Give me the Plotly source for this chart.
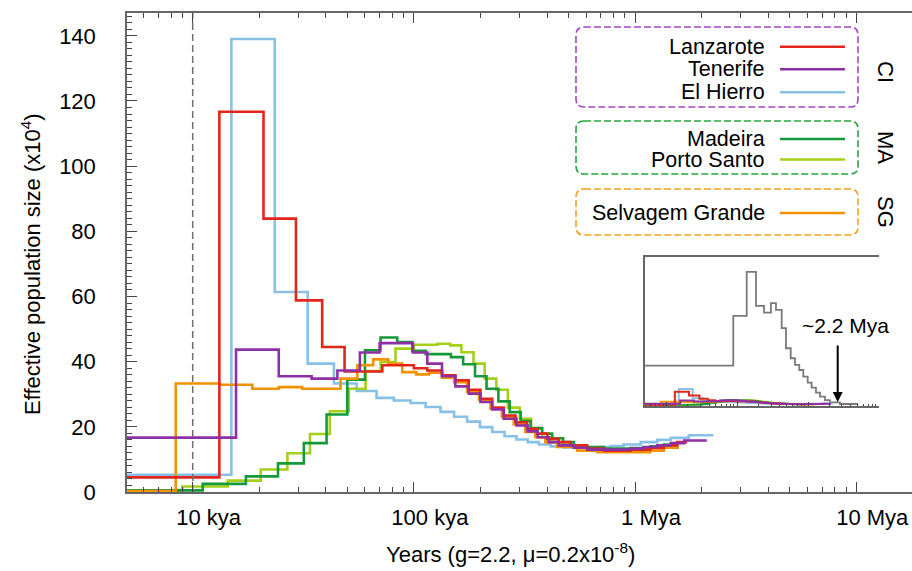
import plotly.graph_objects as go

# ---------------- data (years, Ne x10^4) ----------------
lanz_t = [5000, 13200, 20900, 29300, 38500, 48600, 72000, 100000, 115000, 134000, 154000, 177000, 200000,
          226000, 255000, 288000, 325000, 361000, 401000, 452000, 511000, 608000, 723000, 953000, 1170000,
          1350000, 1550000, 1720000]
lanz_v = [4.5, 116.7, 83.9, 58.8, 44.5, 37.0, 38.9, 38.0, 37.3, 35.8, 34.3, 31.4, 28.6, 25.9, 23.5, 21.4,
          19.4, 17.9, 16.3, 15.3, 14.3, 13.3, 12.7, 13.0, 13.5, 14.3, 15.3]

tene_t = [5000, 15700, 24500, 34500, 45100, 57000, 70000, 99000, 115000, 134000, 154000, 177000, 200000,
          226000, 255000, 291000, 327000, 363000, 407000, 452000, 529000, 608000, 953000, 1090000, 1260000,
          1450000, 1670000, 2110000]
tene_v = [16.7, 43.7, 35.5, 34.8, 37.3, 42.8, 45.7, 42.8, 39.4, 35.5, 32.4, 30.2, 27.6, 25.3, 22.5, 20.4,
          18.6, 16.8, 15.3, 14.3, 13.6, 13.0, 13.3, 13.8, 14.3, 15.0, 15.8]

hier_t = [5000, 14960, 23500, 33100, 43500, 55100, 67800, 81200, 96700, 113000, 132000, 152000, 174000,
          199000, 226000, 257000, 291000, 327000, 367000, 415000, 475000, 674000, 774000, 887000, 1060000,
          1260000, 1450000, 1750000, 2260000]
hier_v = [5.3, 139.0, 61.4, 39.4, 33.3, 31.0, 28.9, 28.1, 27.3, 26.1, 24.6, 23.1, 21.6, 19.9, 18.4, 17.1,
          16.1, 15.3, 14.6, 14.0, 13.7, 13.8, 14.1, 14.6, 15.3, 16.0, 16.6, 17.4]

made_t = [5000, 11100, 17400, 24300, 31800, 40300, 50000, 60100, 70700, 84100, 98400, 113000, 147000,
          167000, 189000, 213000, 241000, 271000, 304000, 337000, 380000, 422000, 473000, 529000, 586000,
          723000, 953000, 1170000, 1350000, 1580000]
made_v = [0.5, 2.5, 4.8, 8.8, 15.0, 23.8, 34.5, 43.5, 47.4, 46.0, 43.3, 42.3, 41.4, 39.2, 35.5, 31.7, 27.8,
          24.5, 21.8, 19.6, 17.9, 16.5, 15.3, 14.3, 13.8, 13.3, 13.5, 14.0, 14.6]

port_t = [5000, 8980, 14400, 20300, 26800, 33900, 41700, 50800, 60500, 70700, 82600, 100000, 128000,
          146000, 164000, 186000, 209000, 236000, 266000, 301000, 339000, 380000, 422000, 469000, 529000,
          608000, 830000, 1190000, 1550000]
port_v = [0.3, 1.7, 3.5, 6.9, 11.9, 17.8, 24.8, 31.7, 37.1, 39.9, 44.0, 45.2, 45.5, 45.0, 42.9, 39.4, 34.8,
          31.4, 25.9, 22.5, 19.4, 16.8, 15.3, 14.3, 13.5, 12.7, 13.0, 13.8]

selv_t = [5000, 8380, 13200, 18600, 24500, 31300, 46600, 55500, 65500, 76600, 88600, 102500, 117000,
          134000, 152000, 174000, 197000, 222000, 250000, 283000, 319000, 354000, 393000, 445000, 548000,
          674000, 1170000, 1350000, 1580000]
selv_v = [0.3, 33.3, 32.9, 31.7, 32.2, 31.7, 34.8, 38.9, 40.7, 39.4, 36.8, 36.1, 36.6, 35.1, 33.7, 30.7,
          28.3, 25.6, 23.0, 20.7, 18.4, 16.8, 15.3, 13.8, 12.7, 12.2, 12.7, 13.6]

# inset grey curve
gray_t = [5000, 88000, 136000, 184000, 239000, 299000, 352000, 424000, 487000, 568000, 653000, 750000,
          855000, 986000, 1120000, 1290000, 1470000, 1730000, 2030000, 2810000, 5100000]
gray_v = [333, 747, 1114, 831, 775, 853, 797, 645, 478, 395, 339, 297, 242, 192, 150, 108, 75, 47, 28, 14]

names = ["Lanzarote", "Tenerife", "El Hierro", "Madeira", "Porto Santo", "Selvagem Grande"]
colors = ["#e3261c", "#8e2fa6", "#88c0e8", "#16993a", "#a4cf1a", "#f39200"]
series = [(lanz_t, lanz_v), (tene_t, tene_v), (hier_t, hier_v), (made_t, made_v), (port_t, port_v),
          (selv_t, selv_v)]

xtick_vals = [1e4, 1e5, 1e6, 1e7]
xtick_text = ["10 kya", "100 kya", "1 Mya", "10 Mya"]
marker_year = 1e4

FONT = "Liberation Sans, Arial, Helvetica, sans-serif"
W, H = 912, 571
ML, MR, MT, MB = 127, 0, 13, 79
PW, PH = W - ML - MR, H - MT - MB


def X(px):
    return (px - ML) / PW


def Y(py):
    return (H - MB - py) / PH


fig = go.Figure()

draw_order = [2, 4, 3, 5, 0, 1]
for i in draw_order:
    t, v = series[i]
    fig.add_trace(go.Scatter(x=t, y=v + [v[-1]], mode="lines", line=dict(color=colors[i], width=2.6, shape="hv"),
                             showlegend=False, hoverinfo="skip"))

fig.add_trace(go.Scatter(x=[marker_year, marker_year], y=[0, 147], mode="lines",
                         line=dict(color="#6e6e6e", width=1.5, dash="7px,4px"), showlegend=False))

# inset
fig.add_trace(go.Scatter(x=gray_t, y=gray_v + [gray_v[-1]], mode="lines", xaxis="x2", yaxis="y2",
                         line=dict(color="#7a7a7a", width=1.8, shape="hv"), showlegend=False))
for i in draw_order:
    t, v = series[i]
    fig.add_trace(go.Scatter(x=t, y=v + [v[-1]], mode="lines", xaxis="x2", yaxis="y2",
                             line=dict(color=colors[i], width=2, shape="hv"), showlegend=False))

axcol = "#666666"
tkcol = "#444444"
fig.update_layout(
    width=W, height=H, margin=dict(l=ML, r=MR, t=MT, b=MB),
    paper_bgcolor="white", plot_bgcolor="white",
    font=dict(family=FONT, size=22, color="black"),
    xaxis=dict(type="log", range=[3.703, 7.252], domain=[0, 1], showline=True, linecolor=axcol, linewidth=1.5,
               mirror="ticks", ticks="inside", ticklen=10, tickwidth=1.2, tickcolor=tkcol,
               tickvals=xtick_vals, ticktext=xtick_text, showgrid=False, zeroline=False,
               tickfont=dict(size=22), ticklabelshift=16, ticklabelstandoff=5,
               minor=dict(ticks="inside", ticklen=5, tickwidth=1, tickcolor=tkcol, dtick="D1", showgrid=False)),
    yaxis=dict(range=[0, 147], domain=[0, 1], showline=True, linecolor=axcol, linewidth=1.5, mirror=False,
               ticks="inside", ticklen=10, tickwidth=1.2, tickcolor=tkcol, tick0=0, dtick=20,
               showgrid=False, zeroline=False, tickfont=dict(size=22), ticklabelstandoff=25,
               minor=dict(ticks="inside", ticklen=5, tickwidth=1, tickcolor=tkcol, dtick=2, showgrid=False)),
    xaxis2=dict(type="log", range=[3.699, 7.0], domain=[X(645), X(879)], anchor="y2", showline=True,
                linecolor=axcol, linewidth=1.5, mirror=True, ticks="inside", ticklen=4, tickcolor=tkcol,
                dtick=1, showticklabels=False, showgrid=False, zeroline=False,
                minor=dict(ticks="inside", ticklen=2, tickcolor=tkcol, dtick="D1", showgrid=False)),
    yaxis2=dict(range=[0, 1240], domain=[Y(405.7), Y(256.7)], anchor="x2", showline=True, linecolor=axcol,
                linewidth=1.5, ticks="", showticklabels=False, showgrid=False, zeroline=False),
)

shapes = []
annotations = []


def rrect(x0, y0, x1, y1, r):
    pts = []
    pts.append(f"M {X(x0 + r)},{Y(y0)}")
    pts.append(f"L {X(x1 - r)},{Y(y0)}")
    pts.append(f"Q {X(x1)},{Y(y0)} {X(x1)},{Y(y0 + r)}")
    pts.append(f"L {X(x1)},{Y(y1 - r)}")
    pts.append(f"Q {X(x1)},{Y(y1)} {X(x1 - r)},{Y(y1)}")
    pts.append(f"L {X(x0 + r)},{Y(y1)}")
    pts.append(f"Q {X(x0)},{Y(y1)} {X(x0)},{Y(y1 - r)}")
    pts.append(f"L {X(x0)},{Y(y0 + r)}")
    pts.append(f"Q {X(x0)},{Y(y0)} {X(x0 + r)},{Y(y0)} Z")
    return " ".join(pts)


boxes = [((576, 27, 858, 107), "#a445c2"), ((576, 121, 858, 174), "#26a63c"), ((576, 189, 858, 235), "#f5a21e")]
for (x0, y0, x1, y1), c in boxes:
    shapes.append(dict(type="path", path=rrect(x0, y0, x1, y1, 8), xref="paper", yref="paper",
                       line=dict(color=c, width=1.6, dash="7px,3px")))

rows = [46.7, 69.3, 92.3, 139, 159.5, 213]
for i, ry in enumerate(rows):
    shapes.append(dict(type="line", xref="paper", yref="paper", x0=X(780), x1=X(845), y0=Y(ry), y1=Y(ry),
                       line=dict(color=colors[i], width=2.6)))
    annotations.append(dict(text=names[i], xref="paper", yref="paper", x=X(767), y=Y(ry), xanchor="right",
                            yanchor="middle", showarrow=False, font=dict(size=21.5)))

for lab, ry in [("CI", 72), ("MA", 147), ("SG", 212)]:
    annotations.append(dict(text=lab, xref="paper", yref="paper", x=X(886), y=Y(ry), xanchor="center",
                            yanchor="middle", textangle=90, showarrow=False, font=dict(size=22)))

annotations.append(dict(text="Effective population size (x10<sup>4</sup>)", xref="paper", yref="paper",
                        x=X(31), y=Y(264), textangle=-90, showarrow=False, xanchor="center", yanchor="middle",
                        font=dict(size=22)))
annotations.append(dict(text="Years (g=2.2, \u03bc=0.2x10<sup>-8</sup>)", xref="paper", yref="paper",
                        x=X(510), y=Y(553), showarrow=False, xanchor="center", yanchor="middle",
                        font=dict(size=22)))
annotations.append(dict(text="~2.2 Mya", xref="paper", yref="paper", x=X(845), y=Y(325), showarrow=False,
                        xanchor="center", yanchor="middle", font=dict(size=21)))
annotations.append(dict(text="", xref="paper", yref="paper", x=X(837.7), y=Y(402), ax=0, ay=-58,
                        showarrow=True, arrowhead=2, arrowsize=1, arrowwidth=2, arrowcolor="black"))

fig.update_layout(shapes=shapes, annotations=annotations)
fig.write_html("out.html")
